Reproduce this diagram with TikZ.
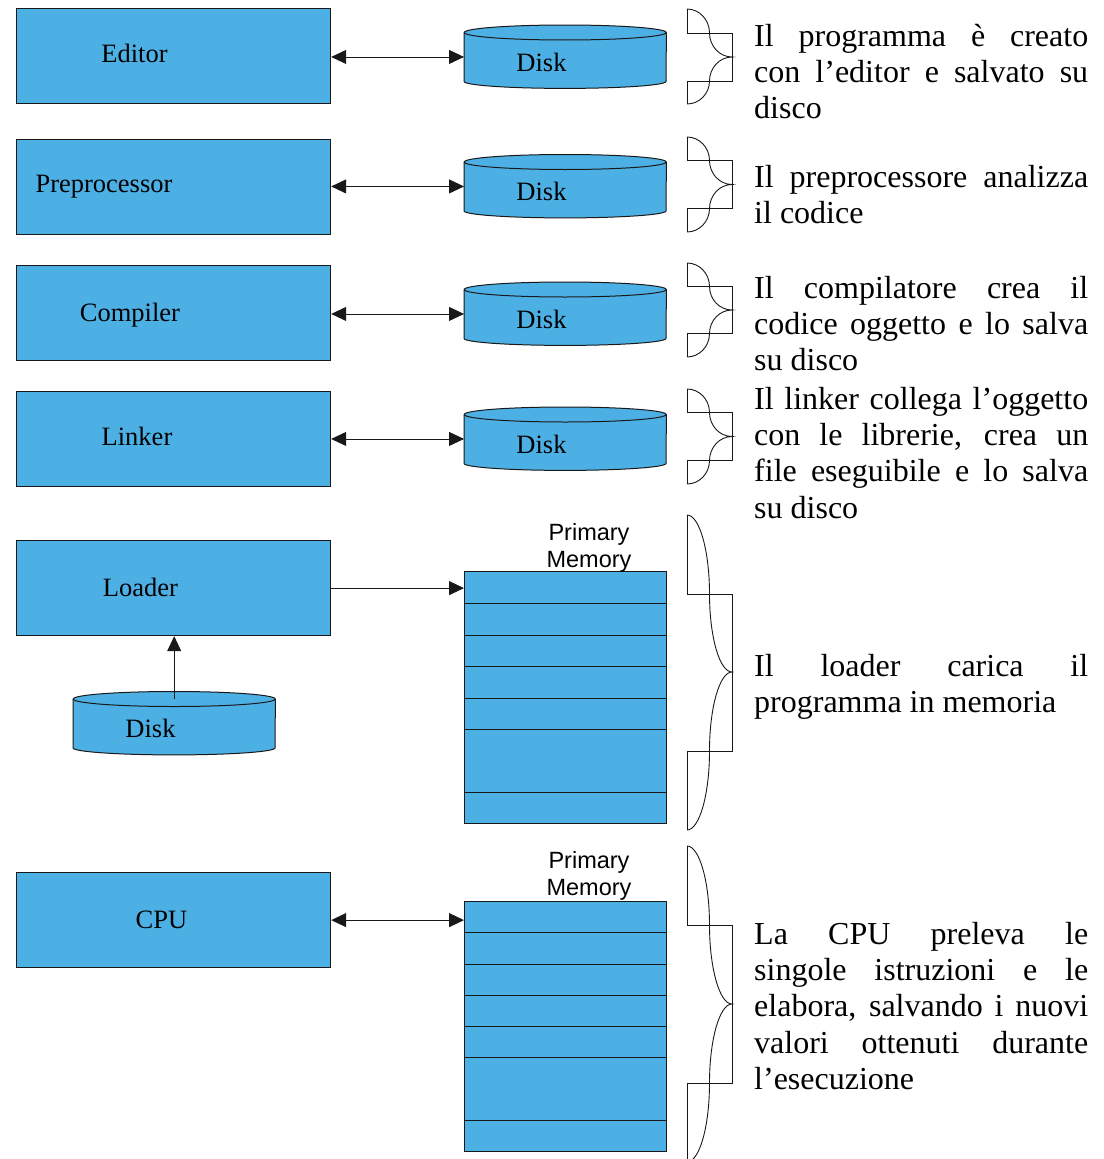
\documentclass[tikz,border=0pt]{standalone}
\usepackage{fontspec}
\setmainfont{Liberation Serif}
\newfontfamily\sansfont{Liberation Sans}
\usetikzlibrary{arrows.meta}
\definecolor{boxblue}{RGB}{77,176,228}
\definecolor{edgecol}{RGB}{25,25,25}
\newcommand\diskdraw[1]{%
  \fill[boxblue] (#1.north west) -- (#1.south west)
    arc[start angle=180,end angle=360,x radius=101pt,y radius=7pt]
    -- (#1.north east)
    arc[start angle=0,end angle=180,x radius=101pt,y radius=7.5pt] -- cycle;
  \draw[diskline] (#1.north west) -- (#1.south west)
    arc[start angle=180,end angle=360,x radius=101pt,y radius=7pt]
    -- (#1.north east);
  \draw[diskline] (#1.north) ellipse[x radius=101pt,y radius=7.5pt];
}
\newcommand\bracedraw[5]{%
  \draw[brc] (687,#1) .. controls (699.4,#1) and (709.5,{#2-0.55*(#2-#1)}) .. (709.5,#2)
    .. controls (709.5,{#2+0.55*(#3-#2)}) and (719.6,#3) .. (732,#3)
    .. controls (719.6,#3) and (709.5,{#4-0.55*(#4-#3)}) .. (709.5,#4)
    .. controls (709.5,{#4+0.55*(#5-#4)}) and (699.4,#5) .. (687,#5);
  \draw[brc] (687,#1) -- (687,#2) -- (732,#2) -- (732,#4) -- (687,#4) -- (687,#5);
}
\newcommand\jl[1]{\makebox[334pt][s]{#1}}
\begin{document}
\begin{tikzpicture}[x=1pt,y=-1pt,
  >={Triangle[length=15pt,width=14pt]},
  box/.style={draw=edgecol, line width=1.2pt, fill=boxblue, minimum width=314pt,
    minimum height=95pt, anchor=north west, inner sep=0pt},
  lbl/.style={font=\fontsize{26.5}{31}\selectfont, anchor=base, inner sep=0pt},
  dsk/.style={inner sep=0pt, minimum width=202pt, minimum height=48.5pt, anchor=north west},
  diskline/.style={draw=edgecol, line width=1pt},
  mem/.style={draw=edgecol, line width=1pt, fill=boxblue, minimum width=202pt,
    anchor=north west, inner sep=0pt},
  memline/.style={draw=edgecol, line width=1pt},
  conn/.style={draw=edgecol, line width=0.9pt},
  desc/.style={font=\fontsize{32}{36.3}\selectfont, anchor=north west, inner sep=0pt, align=left},
  memlbl/.style={font=\sansfont\fontsize{23.5}{26.5}\selectfont, align=center, anchor=north, inner sep=0pt},
  brc/.style={draw=edgecol, line width=0.9pt}
]
\useasboundingbox (0,0) rectangle (1103,1159);
\fill[white] (0,0) rectangle (1103,1159);

% boxes
\node[box] (ed)  at (16,8)   {};
\node[box] (pre) at (16,139) {};
\node[box] (cmp) at (16,265) {};
\node[box] (lnk) at (16,391) {};
\node[box] (ld)  at (16,540) {};
\node[box] (cpu) at (16,872) {};
\node[lbl] (edl)  at (134.5,62) {Editor};
\node[lbl] (prel) at (104,192) {Preprocessor};
\node[lbl] (cmpl) at (130,321) {Compiler};
\node[lbl] (lnkl) at (137,445) {Linker};
\node[lbl] (ldl)  at (140.5,596) {Loader};
\node[lbl] (cpul) at (161.5,928) {CPU};

% disks
\node[dsk] (d1) at (464,32.5) {};
\node[dsk] (d2) at (464,162) {};
\node[dsk] (d3) at (464,289.5) {};
\node[dsk] (d4) at (464,414.5) {};
\node[dsk] (d5) at (73,699) {};
\diskdraw{d1}\diskdraw{d2}\diskdraw{d3}\diskdraw{d4}\diskdraw{d5}
\node[lbl] (d1l) at (541.5,71) {Disk};
\node[lbl] (d2l) at (541.5,200.5) {Disk};
\node[lbl] (d3l) at (541.5,328) {Disk};
\node[lbl] (d4l) at (541.5,453) {Disk};
\node[lbl] (d5l) at (150.5,737) {Disk};

% memories
\node[mem, minimum height=252pt] (m1) at (464,571) {};
\foreach \yy in {603,635,666,698,729,792}
  \draw[memline] (m1.west |- 0,\yy) -- (m1.east |- 0,\yy);
\node[mem, minimum height=250pt] (m2) at (464,901) {};
\foreach \yy in {932,964,995,1026,1057,1120}
  \draw[memline] (m2.west |- 0,\yy) -- (m2.east |- 0,\yy);
\node[memlbl] (m1l) at (589,522) {\strut Primary\\Memory};
\node[memlbl] (m2l) at (589,850) {\strut Primary\\Memory};

% connectors
\draw[conn,<->] (ed.east |- d1.west) -- (d1.west);
\draw[conn,<->] (pre.east |- d2.west) -- (d2.west);
\draw[conn,<->] (cmp.east |- d3.west) -- (d3.west);
\draw[conn,<->] (lnk.east |- d4.west) -- (d4.west);
\draw[conn,->] (ld.east) -- (ld.east -| m1.west);
\draw[conn,<->] (cpu.east) -- (cpu.east -| m2.west);
\draw[conn,->] (d5.north) -- (d5.north |- ld.south);

% braces
\bracedraw{9}{33}{57}{81}{104}
\bracedraw{137}{160.5}{184.5}{208.5}{232}
\bracedraw{263}{286.5}{310}{333.5}{357}
\bracedraw{389}{412.5}{436.5}{460.5}{484}
\bracedraw{515}{594}{672}{751}{830}
\bracedraw{846}{925}{1004}{1083}{1162}

% descriptions
\node[desc] (t1) at (754,20.6) {\strut\jl{Il programma è creato}\\\jl{con l’editor e salvato su}\\disco};
\node[desc] (t2) at (754,161.6) {\strut\jl{Il preprocessore analizza}\\il codice};
\node[desc] (t3) at (754,272.6) {\strut\jl{Il compilatore crea il}\\\jl{codice oggetto e lo salva}\\su disco};
\node[desc] (t4) at (754,383.6) {\strut\jl{Il linker collega l’oggetto}\\\jl{con le librerie, crea un}\\\jl{file eseguibile e lo salva}\\su disco};
\node[desc] (t5) at (754,650.6) {\strut\jl{Il loader carica il}\\programma in memoria};
\node[desc] (t6) at (754,918.6) {\strut\jl{La CPU preleva le}\\\jl{singole istruzioni e le}\\\jl{elabora, salvando i nuovi}\\\jl{valori ottenuti durante}\\l’esecuzione};
\end{tikzpicture}
\end{document}
